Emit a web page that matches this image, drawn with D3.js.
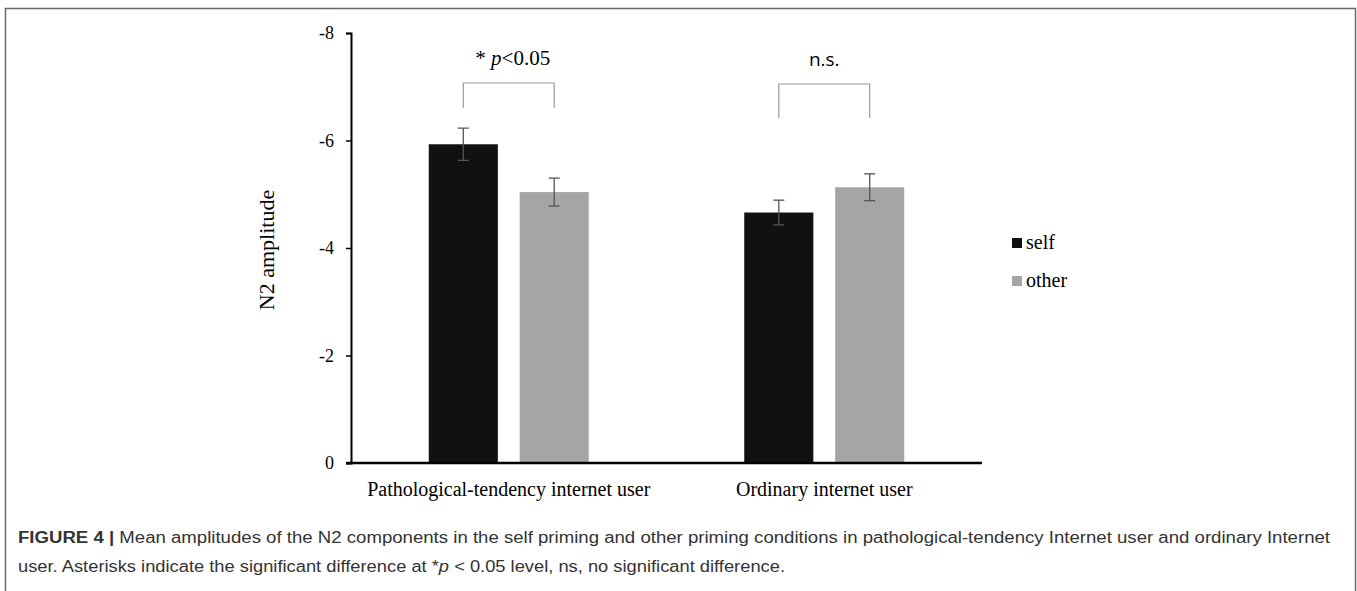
<!DOCTYPE html>
<html>
<head>
<meta charset="utf-8">
<script src="https://cdn.jsdelivr.net/npm/d3@7"></script>
<style>
  body { margin: 0; background: #fff; }
  svg { display: block; }
</style>
</head>
<body>
<div id="chart-area"></div>
<script>
const W = 1357, H = 591;

// data
const groups = ["Pathological-tendency internet user", "Ordinary internet user"];
const conditions = ["self", "other"];
const selfMeans = [-5.93, -4.66];
const otherMeans = [-5.04, -5.13];
const selfErr = [0.30, 0.23];
const otherErr = [0.26, 0.25];
const yTicks = [0, -2, -4, -6, -8];
const sigLabels = ["* p<0.05", "n.s."];

const colors = { self: "#111111", other: "#a5a5a5" };

const svg = d3.select("#chart-area").append("svg").attr("width", W).attr("height", H);

// figure frame
svg.append("rect").attr("x", 5.5).attr("y", 8.5).attr("width", 1350).attr("height", 600)
  .attr("fill", "none").attr("stroke", "#6a6a6a").attr("stroke-width", 1.5);

const x0 = d3.scaleBand().domain(groups).range([351, 982]);
const x1 = d3.scaleBand().domain(conditions).range([0, 160]).paddingInner(0.24);
const y = d3.scaleLinear().domain([0, -8]).range([463, 33]);

const rows = [];
groups.forEach((g, i) => {
  rows.push({ group: g, cond: "self", v: selfMeans[i], e: selfErr[i] });
  rows.push({ group: g, cond: "other", v: otherMeans[i], e: otherErr[i] });
});
const barX = d => x0(d.group) + (x0.bandwidth() - 160) / 2 + x1(d.cond);

svg.selectAll("rect.bar").data(rows).enter().append("rect")
  .attr("class", "bar")
  .attr("x", d => barX(d))
  .attr("y", d => y(d.v))
  .attr("width", x1.bandwidth())
  .attr("height", d => y(0) - y(d.v))
  .attr("fill", d => colors[d.cond]);

// error bars
const eb = svg.selectAll("g.err").data(rows).enter().append("g").attr("class", "err")
  .attr("stroke", "#555").attr("stroke-width", 1.3);
eb.append("line")
  .attr("x1", d => barX(d) + x1.bandwidth() / 2).attr("x2", d => barX(d) + x1.bandwidth() / 2)
  .attr("y1", d => y(d.v - d.e)).attr("y2", d => y(d.v + d.e));
[-1, 1].forEach(s => {
  eb.append("line")
    .attr("x1", d => barX(d) + x1.bandwidth() / 2 - 5.5).attr("x2", d => barX(d) + x1.bandwidth() / 2 + 5.5)
    .attr("y1", d => y(d.v + s * d.e)).attr("y2", d => y(d.v + s * d.e));
});

// axes
const yAxis = svg.append("g").attr("transform", "translate(351,0)")
  .call(d3.axisLeft(y).tickValues(yTicks).tickSize(5).tickPadding(12).tickFormat(d => String(d)));
yAxis.select(".domain").attr("stroke", "#000").attr("stroke-width", 2);
yAxis.selectAll(".tick line").attr("stroke", "#000").attr("stroke-width", 1.5);
yAxis.selectAll(".tick text").attr("font-family", "Liberation Serif").attr("font-size", 18).attr("fill", "#000");
yAxis.select(".tick text").remove();
svg.append("text").attr("x", 334).attr("y", 463).attr("dy", "0.32em").attr("text-anchor", "end")
  .attr("font-family", "Liberation Serif").attr("font-size", 18).text("0");

const xAxis = svg.append("g").attr("transform", "translate(0,463)")
  .call(d3.axisBottom(x0).tickSize(0).tickPadding(19));
xAxis.select(".domain").attr("d", "M346,0H982").attr("stroke", "#000").attr("stroke-width", 2.5);
xAxis.selectAll(".tick text").attr("font-family", "Liberation Serif").attr("font-size", 20).attr("fill", "#000");

svg.append("text").attr("transform", "translate(274,250) rotate(-90)").attr("text-anchor", "middle")
  .attr("font-family", "Liberation Serif").attr("font-size", 22).text("N2 amplitude");

// significance brackets
const brackets = [
  { g: groups[0], top: 83, bottom: 108, label: sigLabels[0] },
  { g: groups[1], top: 84, bottom: 118, label: sigLabels[1] }
];
brackets.forEach(b => {
  const xa = x0(b.g) + (x0.bandwidth() - 160) / 2 + x1("self") + x1.bandwidth() / 2;
  const xb = x0(b.g) + (x0.bandwidth() - 160) / 2 + x1("other") + x1.bandwidth() / 2;
  svg.append("path").attr("d", `M${xa},${b.bottom}V${b.top}H${xb}V${b.bottom}`)
    .attr("fill", "none").attr("stroke", "#9a9a9a").attr("stroke-width", 1.2);
  const t = svg.append("text").attr("x", (xa + xb) / 2 + 4).attr("y", b.top - 18).attr("text-anchor", "middle");
  if (b.label.indexOf("p") >= 0) {
    t.attr("font-family", "Liberation Serif").attr("font-size", 21);
    t.append("tspan").text("* ");
    t.append("tspan").attr("font-style", "italic").text("p");
    t.append("tspan").text("<0.05");
  } else {
    t.attr("x", (xa + xb) / 2).attr("font-family", "Open Sans").attr("font-size", 19).text(b.label);
  }
});

// legend
const leg = svg.selectAll("g.leg").data(conditions).enter().append("g").attr("class", "leg")
  .attr("transform", (d, i) => `translate(1012,${238 + i * 38})`);
leg.append("rect").attr("width", 10).attr("height", 10).attr("fill", d => colors[d]);
leg.append("text").attr("x", 14).attr("y", 11).attr("font-family", "Liberation Serif").attr("font-size", 20)
  .text(d => d);

// caption
const cap = svg.append("g").attr("font-family", "Liberation Sans").attr("font-size", 16).attr("fill", "#333");
const l1 = cap.append("text").attr("x", 18).attr("y", 543)
  .attr("textLength", 1312).attr("lengthAdjust", "spacingAndGlyphs");
l1.append("tspan").attr("font-weight", "bold").text("FIGURE 4 | ");
l1.append("tspan").text("Mean amplitudes of the N2 components in the self priming and other priming conditions in pathological-tendency Internet user and ordinary Internet");
const l2 = cap.append("text").attr("x", 18).attr("y", 572)
  .attr("textLength", 767).attr("lengthAdjust", "spacingAndGlyphs");
l2.append("tspan").text("user. Asterisks indicate the significant difference at *");
l2.append("tspan").attr("font-style", "italic").text("p");
l2.append("tspan").text(" < 0.05 level, ns, no significant difference.");
</script>
</body>
</html>
